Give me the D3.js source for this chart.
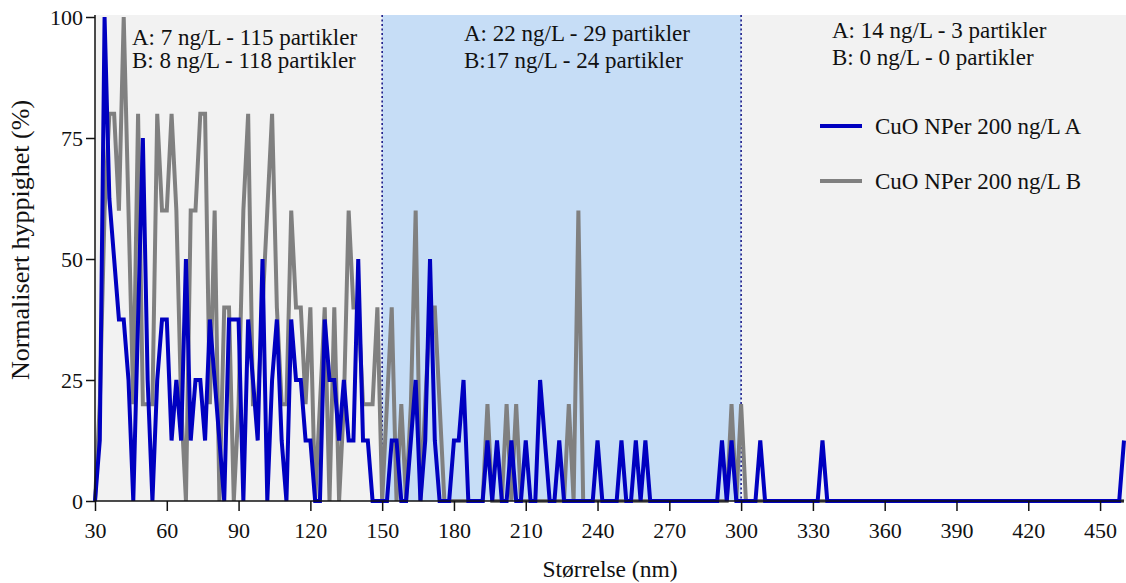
<!DOCTYPE html>
<html>
<head>
<meta charset="utf-8">
<script src="https://cdn.jsdelivr.net/npm/d3@7"></script>
<style>
html,body{margin:0;padding:0;background:#fff;}
svg{display:block;}
text{font-family:"Liberation Serif","Times New Roman",serif;fill:#111;}
</style>
</head>
<body>
<svg id="chart" width="1126" height="583"></svg>
<script>
// ---- data ----
const sizes = [30,32,34,36,38,40,42,44,46,48,50,52,54,56,58,60,62,64,66,68,70,72,74,76,78,80,82,84,86,88,90,92,94,96,98,100,102,104,106,108,110,112,114,116,118,120,122,124,126,128,130,132,134,136,138,140,142,144,146,148,150,152,154,156,158,160,162,164,166,168,170,172,174,176,178,180,182,184,186,188,190,192,194,196,198,200,202,204,206,208,210,212,214,216,218,220,222,224,226,228,230,232,234,236,238,240,242,244,246,248,250,252,254,256,258,260,262,264,266,268,270,272,274,276,278,280,282,284,286,288,290,292,294,296,298,300,302,304,306,308,310,312,314,316,318,320,322,324,326,328,330,332,334,336,338,340,342,344,346,348,350,352,354,356,358,360,362,364,366,368,370,372,374,376,378,380,382,384,386,388,390,392,394,396,398,400,402,404,406,408,410,412,414,416,418,420,422,424,426,428,430,432,434,436,438,440,442,444,446,448,450,452,454,456,458,460];

const seriesA = [0,12.5,100,62.5,50,37.5,37.5,25,0,37.5,75,25,0,25,37.5,37.5,12.5,25,12.5,50,12.5,25,25,12.5,37.5,25,12.5,0,37.5,37.5,37.5,0,37.5,25,12.5,50,0,25,37.5,12.5,0,37.5,25,25,12.5,12.5,0,0,37.5,25,25,12.5,25,12.5,12.5,50,12.5,12.5,0,0,
0,0,12.5,12.5,0,0,12.5,25,0,12.5,50,12.5,0,0,0,12.5,12.5,25,0,0,0,0,12.5,0,12.5,0,0,12.5,0,0,12.5,0,0,25,12.5,0,0,12.5,0,0,0,0,0,0,0,12.5,0,0,0,0,12.5,0,0,12.5,0,12.5,0,0,0,0,0,0,0,0,0,0,0,0,0,0,0,12.5,0,12.5,0,
0,0,0,0,12.5,0,0,0,0,0,0,0,0,0,0,0,0,12.5,0,0,0,0,0,0,0,0,0,0,0,0,0,0,0,0,0,0,0,0,0,0,0,0,0,0,0,0,0,0,0,0,0,0,0,0,0,0,0,0,0,0,0,0,0,0,0,0,0,0,0,0,0,0,0,0,0,0,0,0,0,0,12.5];

const seriesB = [0,20,60,80,80,60,100,60,20,80,20,20,20,80,60,60,80,60,20,0,60,60,80,80,20,60,0,40,40,0,20,60,80,20,20,40,60,80,40,20,20,60,40,40,20,40,0,20,40,0,40,0,20,60,40,40,20,20,20,40,
0,20,40,0,20,0,20,60,0,20,40,40,20,0,0,0,0,0,0,0,0,0,20,0,0,0,20,0,20,0,0,0,0,0,0,0,0,0,0,20,0,60,0,0,0,0,0,0,0,0,0,0,0,0,0,0,0,0,0,0,0,0,0,0,0,0,0,0,0,0,0,0,0,20,0,
20,0,0,0,0,0,0,0,0,0,0,0,0,0,0,0,0,0,0,0,0,0,0,0,0,0,0,0,0,0,0,0,0,0,0,0,0,0,0,0,0,0,0,0,0,0,0,0,0,0,0,0,0,0,0,0,0,0,0,0,0,0,0,0,0,0,0,0,0,0,0,0,0,0,0,0,0,0,0,0,0,0];

const seriesNames = ["CuO NPer 200 ng/L A", "CuO NPer 200 ng/L B"];
const seriesColors = ["#0000c0", "#808080"];
const xTicks = [30,60,90,120,150,180,210,240,270,300,330,360,390,420,450];
const yTicks = [0,25,50,75,100];
const regionBounds = [30,150,300,460];
const regionFills = ["#f2f2f2", "#c6ddf6", "#f2f2f2"];
const regionLabels = [
  ["A: 7 ng/L - 115 partikler", "B: 8 ng/L - 118 partikler"],
  ["A: 22 ng/L - 29 partikler", "B:17 ng/L - 24 partikler"],
  ["A: 14 ng/L - 3 partikler", "B: 0 ng/L - 0 partikler"]
];
const xTitle = "Størrelse (nm)";
const yTitle = "Normalisert hyppighet (%)";

// ---- layout ----
const svg = d3.select("#chart");
const pL = 95, pR = 1124, pT = 15, pB = 501;
const x = d3.scaleLinear().domain([30,460]).range([pL,pR]);
const y = d3.scaleLinear().domain([0,100]).range([pB,17]);
const FONT = "Liberation Serif, Times New Roman, serif";

for (let r = 0; r < 3; r++) {
  svg.append("rect")
    .attr("x", x(regionBounds[r])).attr("y", pT)
    .attr("width", x(regionBounds[r+1]) - x(regionBounds[r]) + (r === 2 ? 2 : 0))
    .attr("height", pB - pT)
    .attr("fill", regionFills[r]);
}

[150,300].forEach(v => {
  svg.append("line")
    .attr("x1", x(v)).attr("x2", x(v))
    .attr("y1", pT).attr("y2", pB)
    .attr("stroke", "#1c1c8a").attr("stroke-width", 1.6)
    .attr("stroke-dasharray", "2,2.5");
});

svg.append("clipPath").attr("id","plotclip")
  .append("rect").attr("x", pL - 2).attr("y", pT).attr("width", pR - pL + 4).attr("height", pB - pT + 4);

const line = d3.line().x(d => x(d[0])).y(d => y(d[1]));
const dataB = sizes.map((s,i) => [s, seriesB[i]]);
const dataA = sizes.map((s,i) => [s, seriesA[i]]);

const g = svg.append("g").attr("clip-path","url(#plotclip)");
g.append("path").datum(dataB).attr("d", line)
  .attr("fill","none").attr("stroke", seriesColors[1]).attr("stroke-width", 4)
  .attr("stroke-linejoin","miter").attr("stroke-miterlimit", 10);
g.append("path").datum(dataA).attr("d", line)
  .attr("fill","none").attr("stroke", seriesColors[0]).attr("stroke-width", 4)
  .attr("stroke-linejoin","miter").attr("stroke-miterlimit", 10);

const xAxis = svg.append("g").attr("transform", `translate(0,${pB})`)
  .call(d3.axisBottom(x).tickValues(xTicks).tickSize(10).tickPadding(11).tickFormat(d3.format("d")));
xAxis.select(".domain").attr("d", `M${pL},0H${pR}`).attr("stroke","#111").attr("stroke-width",1.5);
xAxis.selectAll(".tick line").attr("stroke","#111").attr("stroke-width",1.5);
xAxis.selectAll("text").attr("font-size", 22).attr("fill","#111").attr("font-family", FONT);

const yAxis = svg.append("g").attr("transform", `translate(${pL},0)`)
  .call(d3.axisLeft(y).tickValues(yTicks).tickSize(9).tickPadding(3));
yAxis.select(".domain").attr("d", `M0,${pT}V${pB}`).attr("stroke","#111").attr("stroke-width",1.5);
yAxis.selectAll(".tick line").attr("stroke","#111").attr("stroke-width",1.5);
yAxis.selectAll("text").attr("font-size", 22).attr("fill","#111").attr("font-family", FONT);

svg.append("text").attr("x", 610).attr("y", 577).attr("text-anchor","middle")
  .attr("font-size", 23.5).text(xTitle);
svg.append("text").attr("transform","translate(29,240) rotate(-90)").attr("text-anchor","middle")
  .attr("font-size", 26).text(yTitle);

const annX = [132, 464, 832];
const annY = [[45, 68], [41, 68], [38, 65]];
regionLabels.forEach((lbls, r) => {
  lbls.forEach((t, k) => {
    svg.append("text").attr("x", annX[r]).attr("y", annY[r][k])
      .attr("font-size", 23).text(t);
  });
});

const legY = [126, 181];
seriesNames.forEach((n, k) => {
  svg.append("line").attr("x1", 820).attr("x2", 862).attr("y1", legY[k]).attr("y2", legY[k])
    .attr("stroke", seriesColors[k]).attr("stroke-width", 4);
  svg.append("text").attr("x", 875).attr("y", legY[k] + 8).attr("font-size", 23).text(n);
});
</script>
</body>
</html>
